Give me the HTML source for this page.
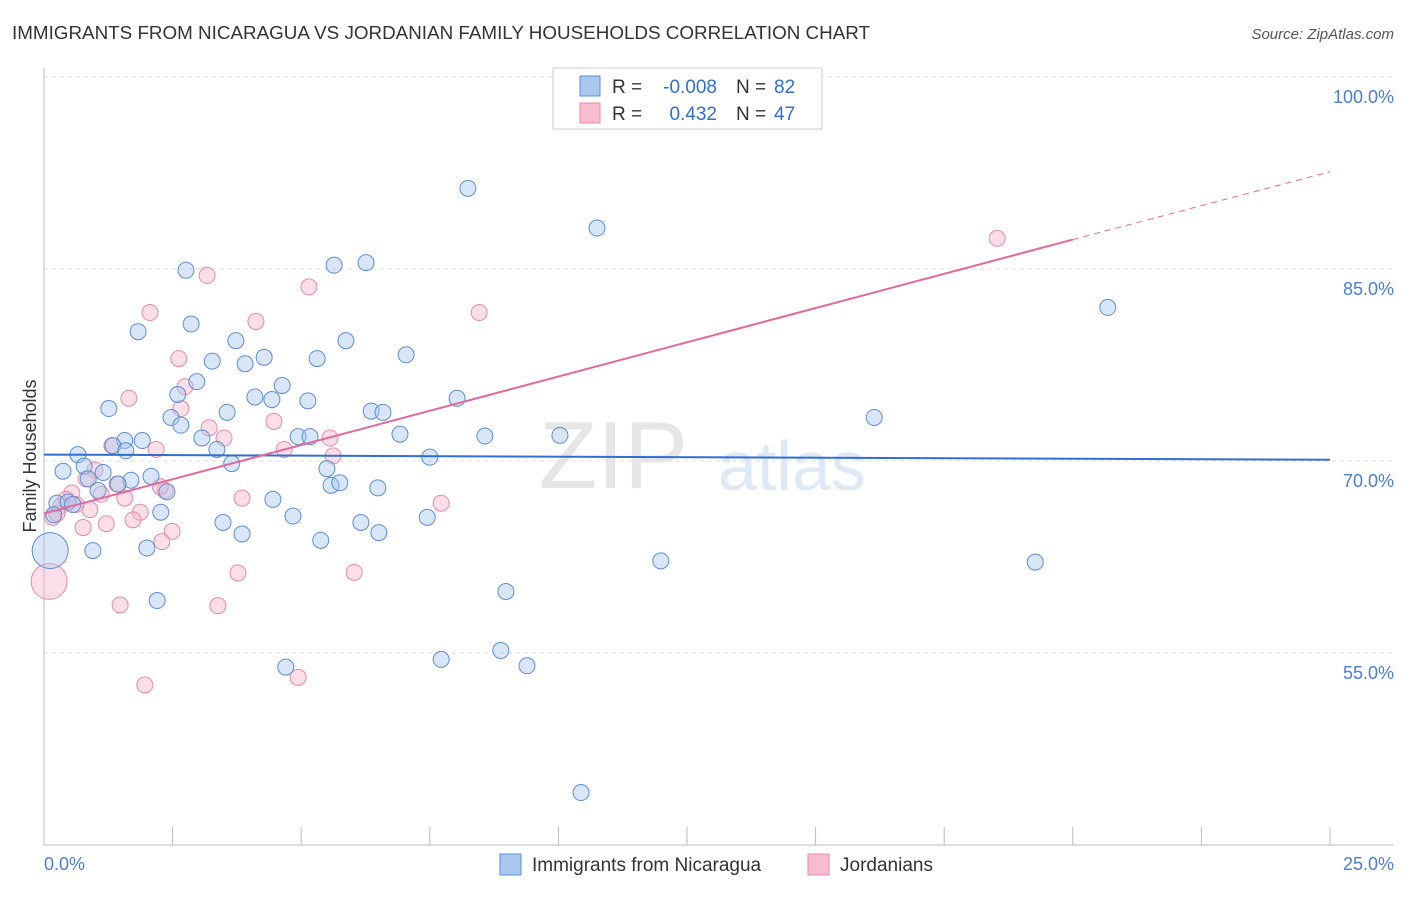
<!DOCTYPE html>
<html><head><meta charset="utf-8"><style>
body{margin:0;background:#fff;font-family:"Liberation Sans",sans-serif;}
svg text{font-family:"Liberation Sans",sans-serif;}
</style></head><body>
<svg width="1406" height="892" xmlns="http://www.w3.org/2000/svg">
<text x="12" y="39" font-size="18" fill="#333" textLength="858" lengthAdjust="spacingAndGlyphs">IMMIGRANTS FROM NICARAGUA VS JORDANIAN FAMILY HOUSEHOLDS CORRELATION CHART</text>
<text x="1394" y="39" font-size="15" fill="#555" font-style="italic" text-anchor="end">Source: ZipAtlas.com</text>
<g id="grid"></g>
<text x="688" y="488" font-size="96" fill="#e6e6e6" text-anchor="end" font-family="Liberation Serif">ZIP</text>
<text x="718" y="490" font-size="70" fill="#dde9f7">atlas</text>
<g id="marks"></g>
<text x="36" y="456" font-size="18" fill="#333" text-anchor="middle" transform="rotate(-90 36 456)">Family Households</text>
<text x="44" y="870" font-size="18" fill="#4a7fd6">0.0%</text>
<text x="1394" y="870" font-size="18" fill="#4a7fd6" text-anchor="end">25.0%</text>
<g>
<rect x="553" y="68" width="269" height="61" fill="#fff" stroke="#ccc"/>
<rect x="580" y="76" width="20" height="20" fill="#a8c8f0" stroke="#5b8fd6"/>
<rect x="580" y="103" width="20" height="20" fill="#f7bccf" stroke="#e88aa8"/>
<text x="612" y="93" font-size="19" fill="#333">R =</text>
<text x="717" y="93" font-size="19" fill="#2f6fd0" text-anchor="end">-0.008</text>
<text x="736" y="93" font-size="19" fill="#333">N =</text>
<text x="774" y="93" font-size="19" fill="#2f6fd0">82</text>
<text x="612" y="120" font-size="19" fill="#333">R =</text>
<text x="717" y="120" font-size="19" fill="#2f6fd0" text-anchor="end">0.432</text>
<text x="736" y="120" font-size="19" fill="#333">N =</text>
<text x="774" y="120" font-size="19" fill="#2f6fd0">47</text>
</g>
<g>
<rect x="500" y="854" width="21" height="21" fill="#a8c8f0" stroke="#5b8fd6"/>
<text x="532" y="871" font-size="19" fill="#333">Immigrants from Nicaragua</text>
<rect x="808" y="854" width="21" height="21" fill="#f7bccf" stroke="#e88aa8"/>
<text x="840" y="871" font-size="19" fill="#333">Jordanians</text>
</g>
</svg>
<script>
const yTicks=[55,70,85,100];
const yTickLabels=["55.0%","70.0%","85.0%","100.0%"];
const xTicks=[0,2.5,5,7.5,10,12.5,15,17.5,20,22.5,25];
const blueX=[8.24,10.75,2.76,5.64,6.26,20.68,2.86,1.83,3.73,5.87,3.27,4.28,5.31,7.04,3.91,2.97,2.60,4.63,4.10,4.43,5.13,8.03,1.26,2.47,3.56,6.36,6.59,16.14,2.66,3.07,4.94,5.17,6.92,8.57,10.03,1.57,1.91,1.34,0.66,1.59,3.36,7.50,0.78,0.37,3.65,5.50,2.08,1.15,0.86,1.69,1.44,5.58,5.75,6.49,2.39,1.05,0.25,0.47,0.56,4.45,2.27,4.84,3.48,6.16,7.45,0.19,3.85,6.51,5.38,2.00,0.95,0.12,11.99,19.27,8.98,2.20,4.70,7.72,8.88,9.39,10.44];
const blueY=[91.3,88.2,84.9,85.3,85.5,82.0,80.7,80.1,79.4,79.4,77.8,78.1,78.0,78.3,77.6,76.2,75.2,75.9,75.0,74.8,74.7,74.9,74.1,73.4,73.8,73.9,73.8,73.4,72.8,71.8,71.9,71.9,72.1,71.95,72.0,71.6,71.6,71.2,70.5,70.8,70.9,70.3,69.6,69.2,69.8,69.4,68.8,69.1,68.6,68.5,68.2,68.1,68.3,67.9,67.6,67.7,66.7,66.8,66.6,67.0,66.0,65.7,65.2,65.2,65.6,65.8,64.3,64.4,63.8,63.2,63.0,63.0,62.2,62.1,59.8,59.1,53.9,54.5,55.2,54.0,44.1];
const blueSize=blueX.map((v,i)=>i===71?18:8);
const pinkX=[18.53,3.17,5.15,2.06,4.12,8.46,2.62,2.74,1.65,2.66,4.47,3.21,3.50,5.56,1.32,2.18,4.67,5.62,0.99,0.82,1.42,2.35,0.54,1.11,1.57,3.85,7.72,0.33,0.89,1.87,0.17,1.73,1.21,0.76,2.49,2.29,3.77,6.03,0.10,1.48,3.38,1.96,4.94,0.25,0.43,0.62,2.26];
const pinkY=[87.4,84.5,83.6,81.6,80.9,81.6,78.0,75.8,74.9,74.1,73.1,72.6,71.8,71.8,71.2,70.9,70.9,70.4,69.3,68.6,68.2,67.7,67.5,67.4,67.1,67.1,66.7,66.5,66.2,66.0,65.6,65.4,65.1,64.8,64.5,63.7,61.25,61.3,60.6,58.75,58.7,52.5,53.1,65.9,67.0,66.6,68.0];
const pinkSize=pinkX.map((v,i)=>i===38?18:8);
const blueTrend=[70.5,70.1];
const pinkTrend=[65.9,87.3,92.6];
const pinkTrendX=[0,20,25];
const X=v=>44+v/25*1286;
const Y=v=>77+(100-v)*12.8;
const NS="http://www.w3.org/2000/svg";
const grid=document.getElementById('grid'),marks=document.getElementById('marks');
function mk(t,a,p){const e=document.createElementNS(NS,t);for(const k in a)e.setAttribute(k,a[k]);p.appendChild(e);return e;}
yTicks.forEach((t,i)=>{
 const l=mk('line',{x1:44,x2:1394,y1:Y(t),y2:Y(t),stroke:'#ddd','stroke-dasharray':'4,4'},grid);
 
 
 const tx=mk('text',{x:1394,y:Y(t)+26,'font-size':18,fill:'#4a7fd6','text-anchor':'end'},grid);
 tx.textContent=yTickLabels[i];
 
 
});
const ax=mk('line',{x1:44,x2:44,y1:68,y2:845,stroke:'#bbb'},grid);


const bx=mk('line',{x1:44,x2:1394,y1:845,y2:845,stroke:'#bbb'},grid);


xTicks.forEach(t=>{
 const l=mk('line',{x1:X(t),x2:X(t),y1:827,y2:845,stroke:'#bbb'},grid);
 
 
});
pinkX.forEach((x,i)=>{
 const c=mk('circle',{cx:X(x),cy:Y(pinkY[i]),r:pinkSize[i],fill:'rgba(247,182,203,0.45)',stroke:'#e88aa8','stroke-width':1},marks);
 
 
});
blueX.forEach((x,i)=>{
 const c=mk('circle',{cx:X(x),cy:Y(blueY[i]),r:blueSize[i],fill:'rgba(168,200,240,0.45)',stroke:'#5b8fd6','stroke-width':1},marks);
 
 
});
const bl=mk('line',{x1:X(0),y1:Y(blueTrend[0]),x2:X(25),y2:Y(blueTrend[1]),stroke:'#2f6fd0','stroke-width':2},marks);


const pl=mk('line',{x1:X(pinkTrendX[0]),y1:Y(pinkTrend[0]),x2:X(pinkTrendX[1]),y2:Y(pinkTrend[1]),stroke:'#e5689a','stroke-width':2},marks);


const pd=mk('line',{x1:X(pinkTrendX[1]),y1:Y(pinkTrend[1]),x2:X(pinkTrendX[2]),y2:Y(pinkTrend[2]),stroke:'#e5689a','stroke-width':1,'stroke-dasharray':'6,5'},marks);


</script>
</body></html>
